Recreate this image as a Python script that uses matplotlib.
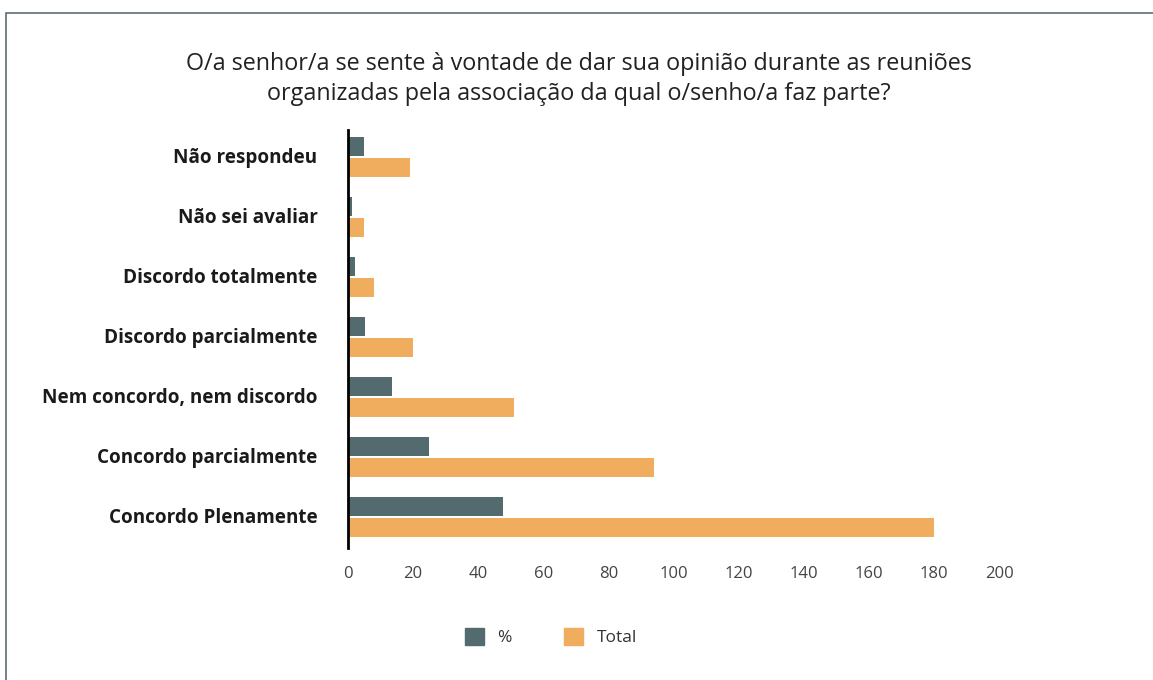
import matplotlib
matplotlib.use("Agg")
import matplotlib.pyplot as plt
import numpy as np
from matplotlib.patches import Patch, Rectangle

categories = ["Não respondeu", "Não sei avaliar", "Discordo totalmente",
              "Discordo parcialmente", "Nem concordo, nem discordo",
              "Concordo parcialmente", "Concordo Plenamente"]
pct = [5.0, 1.3, 2.1, 5.3, 13.5, 24.9, 47.7]
total = [19, 5, 8, 20, 51, 94, 180]
series_names = ["%", "Total"]
xticks = [0, 20, 40, 60, 80, 100, 120, 140, 160, 180, 200]
title = ("O/a senhor/a se sente à vontade de dar sua opinião durante as reuniões\n"
         "organizadas pela associação da qual o/senho/a faz parte?")

C_PCT = "#536a6f"
C_TOT = "#f0ad5e"
FONT = ["Open Sans", "DejaVu Sans"]
plt.rcParams["font.family"] = FONT

W, H = 1153, 680
fig = plt.figure(figsize=(W / 100, H / 100), dpi=100)

# frame
fig.add_artist(Rectangle((6 / W, -0.05), 1.2, (H - 13) / H + 0.05, transform=fig.transFigure,
                         fill=False, edgecolor="#5e6e76", linewidth=1.2))

left, right = 348 / W, 999 / W
top, bottom = 1 - 130 / H, 1 - 548 / H
ax = fig.add_axes([left, bottom, right - left, top - bottom])

y = np.arange(len(categories))
bh = 0.31
off = 0.175
ax.barh(y - off, pct, height=bh, color=C_PCT, label=series_names[0])
ax.barh(y + off, total, height=bh, color=C_TOT, label=series_names[1])

ax.set_ylim(len(categories) - 0.5 + 0.02, -0.45)
ax.set_xlim(0, 200)
ax.set_yticks(y - 0.03)
ax.set_yticklabels(categories, fontsize=13.6, color="#1a1a1a")
for t in ax.get_yticklabels():
    t.set_fontweight("bold")
ax.set_xticks(xticks)
ax.set_xticklabels([str(t) for t in xticks], fontsize=12, color="#444444")
ax.tick_params(axis="both", length=0)
ax.tick_params(axis="y", pad=22)
ax.tick_params(axis="x", pad=13)
for s in ["top", "right", "bottom"]:
    ax.spines[s].set_visible(False)
ax.spines["left"].set_linewidth(2)
ax.spines["left"].set_color("black")

fig.text(579 / W, 1 - 79 / H, title, ha="center", va="center", fontsize=16.8,
         color="#222222", linespacing=1.3)

handles = [Patch(facecolor=C_PCT, edgecolor=C_PCT, label=series_names[0]),
           Patch(facecolor=C_TOT, edgecolor=C_TOT, label=series_names[1])]
fig.legend(handles=handles, loc="center", bbox_to_anchor=(551 / W, 1 - 637 / H),
           ncol=2, frameon=False, fontsize=12.5, handlelength=1.1, handleheight=1.1,
           columnspacing=3.0, handletextpad=0.8, labelcolor="#333333")

fig.savefig("out.png", dpi=100)
